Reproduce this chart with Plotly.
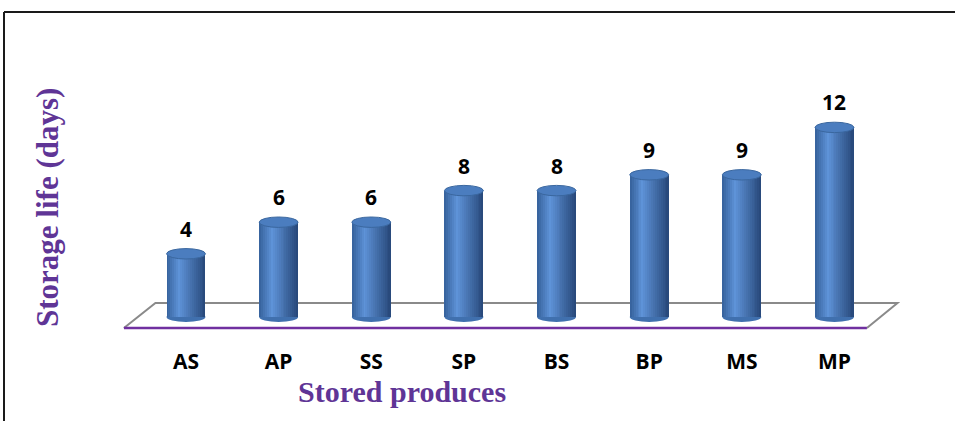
import plotly.graph_objects as go
import numpy as np

# ---- data ----
categories = ["AS", "AP", "SS", "SP", "BS", "BP", "MS", "MP"]
storage_days = [4, 6, 6, 8, 8, 9, 9, 12]
x_title = "Stored produces"
y_title = "Storage life (days)"

# ---- geometry / style ----
W_PX, H_PX = 955, 421
ML, MR, MT, MB = 100, 35, 20, 91
X0_PX, STEP_PX = 186.0, 92.64
Y0_PX, UNIT_PX = 317.0, 15.8

plot_w = W_PX - ML - MR
plot_h = H_PX - MT - MB
x_range = [(ML - X0_PX) / STEP_PX, (W_PX - MR - X0_PX) / STEP_PX]
y_range = [-(H_PX - MB - Y0_PX) / UNIT_PX, (Y0_PX - MT) / UNIT_PX]

def px_x(p):
    return (p - ML) / plot_w

def px_y(p):
    return (H_PX - MB - p) / plot_h

xs = list(range(len(categories)))
BW = 0.42
N = 20

stops_u = [-1.0, -0.35, 1.0]
stops_c = [np.array([0x35, 0x60, 0x9a]), np.array([0x5e, 0x93, 0xd8]), np.array([0x27, 0x47, 0x78])]

def shade(u):
    for a in range(len(stops_u) - 1):
        if stops_u[a] <= u <= stops_u[a + 1]:
            t = (u - stops_u[a]) / (stops_u[a + 1] - stops_u[a])
            c = stops_c[a] * (1 - t) + stops_c[a + 1] * t
            return "rgb(%d,%d,%d)" % tuple(int(round(v)) for v in c)
    return "rgb(53,96,154)"

fig = go.Figure()
for k in range(N):
    u = -1 + (2 * k + 1) / N
    col = shade(u)
    w = BW / N * (1.8 if k < N - 1 else 1.0)
    fig.add_trace(go.Bar(
        x=xs, y=storage_days,
        width=w, offset=-BW / 2 + k * BW / N,
        marker=dict(color=col, line=dict(width=0)),
        hoverinfo="skip", showlegend=False,
    ))

shapes = []
# floor
fl_front, fl_back = -0.70, 0.886
shapes.append(dict(type="path", xref="x", yref="y", layer="below",
                   path=f"M -0.67,{fl_front} L -0.33,{fl_back} L 7.68,{fl_back} L 7.35,{fl_front}",
                   line=dict(color="#8a8a8a", width=2)))
shapes.append(dict(type="line", xref="x", yref="y", layer="below",
                   x0=-0.67, x1=7.35, y0=fl_front, y1=fl_front,
                   line=dict(color="#7030a0", width=2.5)))
# cylinder caps
for i, v in zip(xs, storage_days):
    shapes.append(dict(type="circle", xref="x", yref="y", layer="below",
                       x0=i - BW / 2, x1=i + BW / 2, y0=-0.32, y1=0.32,
                       fillcolor="#4070ae", line=dict(width=0)))
    shapes.append(dict(type="circle", xref="x", yref="y", layer="above",
                       x0=i - BW / 2, x1=i + BW / 2, y0=v - 0.33, y1=v + 0.33,
                       fillcolor="#4b7dbf", line=dict(color="#3a679f", width=1)))
# frame
shapes.append(dict(type="line", xref="paper", yref="paper",
                   x0=px_x(4), x1=px_x(960), y0=px_y(12), y1=px_y(12),
                   line=dict(color="#1a1a1a", width=2)))
shapes.append(dict(type="line", xref="paper", yref="paper",
                   x0=px_x(4), x1=px_x(4), y0=px_y(12), y1=px_y(430),
                   line=dict(color="#1a1a1a", width=2)))

annotations = []
for i, v in zip(xs, storage_days):
    annotations.append(dict(x=i, y=v, xref="x", yref="y", yshift=25,
                            text=str(v), showarrow=False,
                            font=dict(family="Open Sans", size=21, color="black", weight="bold")))
annotations.append(dict(x=px_x(47), y=px_y(208), xref="paper", yref="paper",
                        text=y_title, textangle=-90, showarrow=False,
                        xanchor="center", yanchor="middle",
                        font=dict(family="Liberation Serif", size=31, color="#5f3596", weight="bold")))
annotations.append(dict(x=px_x(402), y=px_y(391), xref="paper", yref="paper",
                        text=x_title, showarrow=False,
                        xanchor="center", yanchor="middle",
                        font=dict(family="Liberation Serif", size=30, color="#5f3596", weight="bold")))

fig.update_layout(
    width=W_PX, height=H_PX,
    margin=dict(l=ML, r=MR, t=MT, b=MB, pad=0),
    barmode="overlay", bargap=0,
    paper_bgcolor="white", plot_bgcolor="white",
    shapes=shapes, annotations=annotations,
    xaxis=dict(range=x_range, tickmode="array", tickvals=xs, ticktext=categories,
               showgrid=False, zeroline=False, showline=False, ticks="",
               ticklabelstandoff=17,
               tickfont=dict(family="Open Sans", size=21, color="black", weight="bold")),
    yaxis=dict(range=y_range, visible=False, showgrid=False, zeroline=False),
)

fig.write_html("out.html")
